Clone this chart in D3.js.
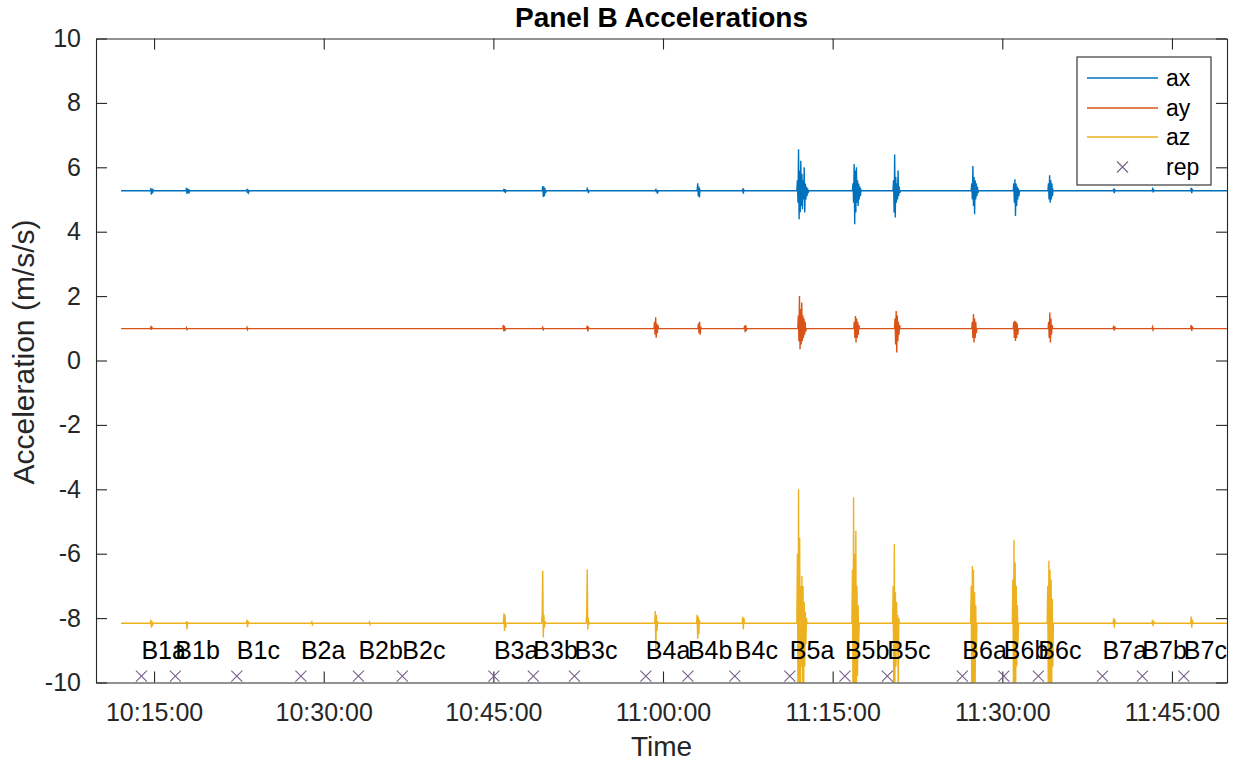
<!DOCTYPE html>
<html>
<head>
<meta charset="utf-8">
<script src="https://cdn.jsdelivr.net/npm/d3@7/dist/d3.min.js"></script>
<style>
  html, body { margin: 0; padding: 0; background: #fff; }
  svg { display: block; }
  text { font-family: "Liberation Sans", Arial, Helvetica, sans-serif; }
</style>
</head>
<body>
<svg id="chart" width="1234" height="765"></svg>
<script>
// ---------------- DATA ----------------
const TITLE = "Panel B Accelerations";
const X_LABEL = "Time";
const Y_LABEL = "Acceleration (m/s/s)";
const X_DOMAIN = ["10:09:52", "11:49:52"];
const Y_DOMAIN = [-10, 10];
const X_TICKS = ["10:15:00", "10:30:00", "10:45:00", "11:00:00", "11:15:00", "11:30:00", "11:45:00"];
const Y_TICKS = [-10, -8, -6, -4, -2, 0, 2, 4, 6, 8, 10];
const SERIES_NAMES = ["ax", "ay", "az"];
const DATA_START = "10:12:05";
const DATA_END = "11:49:52";
const SAMPLE_SEC = 3;

const AX_BASE = 5.27;
const AY_BASE = 0.99;
const AZ_BASE = -8.16;

// bursts: [start time, samples...]
const AX_BURSTS = [
  ["10:14:40", [5.27,5.35,5.15,5.32,5.2,5.3,5.27]],
  ["10:17:49", [5.27,5.36,5.17,5.34,5.2,5.32,5.23,5.27]],
  ["10:23:10", [5.27,5.33,5.2,5.31,5.22,5.27]],
  ["10:45:53", [5.27,5.33,5.22,5.32,5.24,5.27]],
  ["10:49:19", [5.27,5.42,5.08,5.4,5.1,5.35,5.2,5.27]],
  ["10:53:15", [5.27,5.34,5.3,5.2,5.28,5.27]],
  ["10:59:19", [5.27,5.33,5.22,5.3,5.18,5.27]],
  ["11:03:01", [5.27,5.5,5.1,5.4,5.06,5.3,5.27]],
  ["11:07:00", [5.27,5.34,5.18,5.3,5.27]],
  ["11:11:50", [5.27,5.6,4.9,6.56,4.39,5.9,4.6,6.2,4.8,5.8,4.7,5.6,5.0,6.0,4.6,5.5,5.0,5.4,5.1,5.35,5.2,5.27]],
  ["11:16:45", [5.27,5.5,4.9,6.1,4.23,5.9,4.6,6.0,4.9,5.6,4.8,5.5,5.0,5.4,5.1,5.3,5.27]],
  ["11:20:20", [5.27,5.6,4.6,6.4,4.44,5.7,4.9,5.5,5.0,5.9,5.1,5.4,5.2,5.27]],
  ["11:27:15", [5.27,5.5,5.0,6.04,4.8,5.7,4.54,5.6,5.0,5.5,5.1,5.4,5.2,5.27]],
  ["11:30:58", [5.27,5.5,4.9,5.63,4.49,5.5,4.8,5.4,5.0,5.35,5.1,5.27]],
  ["11:34:02", [5.27,5.5,5.0,5.75,4.9,5.6,5.0,5.5,5.1,5.3,5.27]],
  ["11:39:48", [5.27,5.33,5.2,5.3,5.27]],
  ["11:43:14", [5.27,5.32,5.22,5.3,5.27]],
  ["11:46:39", [5.27,5.36,5.2,5.33,5.27]]
];
const AY_BURSTS = [
  ["10:14:40", [0.99,1.03,0.95,1.02,0.99]],
  ["10:17:49", [0.99,1.02,0.96,0.99]],
  ["10:23:10", [0.99,1.03,0.96,0.99]],
  ["10:45:50", [0.99,1.1,0.9,1.08,0.92,0.99]],
  ["10:49:19", [0.99,1.03,0.96,0.99]],
  ["10:53:15", [0.99,1.08,0.9,1.05,0.99]],
  ["10:59:12", [0.99,1.2,0.8,1.34,0.71,1.15,0.85,1.1,0.99]],
  ["11:03:05", [0.99,1.15,0.85,1.2,0.8,1.05,0.99]],
  ["11:07:10", [0.99,1.08,0.88,1.1,0.92,0.99]],
  ["11:11:55", [0.99,1.4,0.6,2.0,0.35,1.6,0.5,1.8,0.6,1.4,0.7,1.3,0.8,1.2,0.9,0.99]],
  ["11:16:52", [0.99,1.2,0.7,1.38,0.56,1.3,0.7,1.2,0.8,1.1,0.99]],
  ["11:20:28", [0.99,1.3,0.5,1.54,0.25,1.4,0.6,1.2,0.8,1.1,0.99]],
  ["11:27:18", [0.99,1.2,0.7,1.44,0.56,1.3,0.7,1.2,0.85,0.99]],
  ["11:30:58", [0.99,1.2,0.7,1.23,0.61,1.2,0.7,1.15,0.8,0.99]],
  ["11:34:03", [0.99,1.2,0.7,1.49,0.56,1.3,0.8,1.1,0.99]],
  ["11:39:48", [0.99,1.08,0.93,1.05,0.99]],
  ["11:43:14", [0.99,1.04,0.95,0.99]],
  ["11:46:39", [0.99,1.1,0.92,1.06,0.99]]
];
const AZ_BURSTS = [
  ["10:14:40", [-8.16,-8.05,-8.3,-8.1,-8.2,-8.16]],
  ["10:17:49", [-8.16,-8.1,-8.35,-8.12,-8.16]],
  ["10:23:10", [-8.16,-8.05,-8.28,-8.1,-8.16]],
  ["10:28:54", [-8.16,-8.12,-8.2,-8.16]],
  ["10:34:00", [-8.16,-8.12,-8.2,-8.16]],
  ["10:45:53", [-8.16,-7.85,-8.4,-7.9,-8.3,-8.16]],
  ["10:49:16", [-8.16,-7.9,-6.53,-8.6,-7.9,-8.3,-8.1,-8.16]],
  ["10:53:12", [-8.16,-7.9,-6.48,-8.35,-8.0,-8.2,-8.16]],
  ["10:59:16", [-8.16,-7.78,-8.97,-7.9,-8.4,-8.1,-8.16]],
  ["11:02:58", [-8.16,-7.9,-8.65,-7.95,-8.5,-8.05,-8.16]],
  ["11:07:00", [-8.16,-7.95,-8.35,-8.0,-8.16]],
  ["11:11:50", [-8.16,-6.0,-10.5,-4.0,-10.5,-5.5,-10.5,-7.0,-9.5,-6.69,-10.5,-7.0,-10.5,-7.5,-9.5,-7.8,-8.8,-8.0,-8.16]],
  ["11:16:42", [-8.16,-6.5,-10.5,-4.25,-10.5,-6.0,-10.5,-5.29,-10.5,-7.0,-9.8,-7.6,-8.8,-8.16]],
  ["11:20:18", [-8.16,-7.0,-10.2,-5.7,-10.0,-7.2,-9.5,-7.5,-9.0,-7.9,-10.5,-8.0,-8.16]],
  ["11:27:12", [-8.16,-7.0,-10.5,-6.38,-10.5,-6.5,-10.5,-7.2,-10.0,-7.6,-9.2,-8.16]],
  ["11:30:53", [-8.16,-6.8,-10.2,-5.57,-10.5,-6.27,-10.0,-7.0,-9.5,-7.6,-8.8,-8.16]],
  ["11:33:58", [-8.16,-7.0,-10.5,-6.22,-10.5,-6.5,-10.5,-6.8,-10.2,-7.4,-9.5,-8.16]],
  ["11:39:48", [-8.16,-8.0,-8.3,-8.05,-8.16]],
  ["11:43:14", [-8.16,-8.05,-8.25,-8.1,-8.16]],
  ["11:46:39", [-8.16,-7.95,-8.3,-8.05,-8.16]]
];

const REP_NAMES = ["B1a","B1b","B1c","B2a","B2b","B2c","B3a","B3b","B3c","B4a","B4b","B4c",
                   "B5a","B5b","B5c","B6a","B6b","B6c","B7a","B7b","B7c"];
const REP_TIMES = ["10:13:53","10:16:53","10:22:19","10:27:59","10:33:04","10:36:57",
                   "10:45:03","10:48:32","10:52:10","10:58:29","11:02:12","11:06:21",
                   "11:11:13","11:16:05","11:19:50","11:26:28","11:30:08","11:33:11",
                   "11:38:51","11:42:23","11:46:03"];
const REP_MARK_Y = -9.8;
const REP_LABEL_Y = -9;

// ---------------- STYLE / LAYOUT ----------------
const COLORS = { ax: "#0072BD", ay: "#D95319", az: "#EDB120", rep: "#76608c" };
const AXIS_COLOR = "#262626";
const M = { left: 96, right: 1234 - 1227, top: 38.5, bottom: 765 - 682.5 };
const W = 1234, H = 765;
const iw = W - M.left - M.right, ih = H - M.top - M.bottom;

const parse = d3.timeParse("%H:%M:%S");
const fmt = d3.timeFormat("%H:%M:%S");

const x = d3.scaleTime().domain(X_DOMAIN.map(parse)).range([0, iw]);
const y = d3.scaleLinear().domain(Y_DOMAIN).range([ih, 0]);

function buildSeries(base, bursts) {
  const pts = [[parse(DATA_START), base]];
  bursts.forEach(([t0, vals]) => {
    const start = parse(t0);
    vals.forEach((v, i) => pts.push([new Date(start.getTime() + i * SAMPLE_SEC * 1000), v]));
  });
  pts.push([parse(DATA_END), base]);
  return pts;
}
const series = {
  ax: buildSeries(AX_BASE, AX_BURSTS),
  ay: buildSeries(AY_BASE, AY_BURSTS),
  az: buildSeries(AZ_BASE, AZ_BURSTS)
};

const svg = d3.select("#chart");
svg.append("rect").attr("width", W).attr("height", H).attr("fill", "#fff");

const g = svg.append("g").attr("transform", `translate(${M.left},${M.top})`);

g.append("defs").append("clipPath").attr("id", "clip")
  .append("rect").attr("width", iw).attr("height", ih);

// Lines
const line = d3.line().x(d => x(d[0])).y(d => y(d[1]));
const plot = g.append("g").attr("clip-path", "url(#clip)");
SERIES_NAMES.forEach(name => {
  plot.append("path")
    .datum(series[name])
    .attr("fill", "none")
    .attr("stroke", COLORS[name])
    .attr("stroke-width", 1.4)
    .attr("stroke-linejoin", "miter")
    .attr("d", line);
});

// Axes (inward ticks, box)
const TL = 11;
const fontTick = 25;
const xTickVals = X_TICKS.map(parse);
const axB = g.append("g").attr("transform", `translate(0,${ih})`)
  .call(d3.axisBottom(x).tickValues(xTickVals).tickFormat(fmt).tickSizeInner(-TL).tickSizeOuter(0).tickPadding(20.5));
const axT = g.append("g")
  .call(d3.axisTop(x).tickValues(xTickVals).tickFormat("").tickSizeInner(-TL).tickSizeOuter(0));
const axL = g.append("g")
  .call(d3.axisLeft(y).tickValues(Y_TICKS).tickFormat(d => String(d)).tickSizeInner(-TL).tickSizeOuter(0).tickPadding(15));
const axR = g.append("g").attr("transform", `translate(${iw},0)`)
  .call(d3.axisRight(y).tickValues(Y_TICKS).tickFormat("").tickSizeInner(-TL).tickSizeOuter(0));
[axB, axT, axL, axR].forEach(a => {
  a.selectAll("path, line").attr("stroke", AXIS_COLOR).attr("stroke-width", 1.1);
  a.selectAll("text").attr("fill", "#262626").style("font-size", fontTick + "px")
    .style("font-family", '"Liberation Sans", Arial, sans-serif');
});

// Rep markers
const mk = 5.5;
const reps = REP_TIMES.map((t, i) => ({ t: parse(t), name: REP_NAMES[i] }));
const markG = g.append("g").attr("clip-path", "url(#clip)");
reps.forEach(r => {
  const cx = x(r.t), cy = y(REP_MARK_Y);
  markG.append("path")
    .attr("d", `M${cx - mk},${cy - mk}L${cx + mk},${cy + mk}M${cx - mk},${cy + mk}L${cx + mk},${cy - mk}`)
    .attr("stroke", COLORS.rep).attr("stroke-width", 1.1).attr("fill", "none");
});
// Rep labels
g.append("g").selectAll("text").data(reps).join("text")
  .attr("x", d => x(d.t))
  .attr("y", y(REP_LABEL_Y))
  .attr("dy", "0.35em")
  .attr("text-anchor", "start")
  .style("font-size", "25px")
  .attr("fill", "#000")
  .text(d => d.name);

// Title
svg.append("text")
  .attr("x", M.left + iw / 2).attr("y", 27)
  .attr("text-anchor", "middle")
  .style("font-size", "28px").style("font-weight", "bold")
  .attr("fill", "#000")
  .text(TITLE);

// Axis labels
svg.append("text")
  .attr("x", M.left + iw / 2).attr("y", 756)
  .attr("text-anchor", "middle")
  .style("font-size", "28px").attr("fill", "#262626")
  .text(X_LABEL);
svg.append("text")
  .attr("transform", `translate(34,${352}) rotate(-90)`)
  .attr("text-anchor", "middle")
  .style("font-size", "30px").attr("fill", "#262626")
  .text(Y_LABEL);

// Legend
const LX = 1077, LY = 57, LW = 134, LH = 128;
const leg = svg.append("g");
leg.append("rect").attr("x", LX).attr("y", LY).attr("width", LW).attr("height", LH)
  .attr("fill", "#fff").attr("stroke", AXIS_COLOR).attr("stroke-width", 1.1);
const legItems = SERIES_NAMES.concat(["rep"]);
const rowY = [78, 108, 137, 167];
legItems.forEach((name, i) => {
  const yy = rowY[i];
  if (name === "rep") {
    const cx = 1122.5;
    leg.append("path")
      .attr("d", `M${cx - mk},${yy - mk}L${cx + mk},${yy + mk}M${cx - mk},${yy + mk}L${cx + mk},${yy - mk}`)
      .attr("stroke", COLORS.rep).attr("stroke-width", 1.1);
  } else {
    leg.append("line").attr("x1", 1087).attr("x2", 1158).attr("y1", yy).attr("y2", yy)
      .attr("stroke", COLORS[name]).attr("stroke-width", 1.4);
  }
  leg.append("text").attr("x", 1166).attr("y", yy).attr("dy", "0.35em")
    .style("font-size", "23px").attr("fill", "#000").text(name);
});
</script>
</body>
</html>
